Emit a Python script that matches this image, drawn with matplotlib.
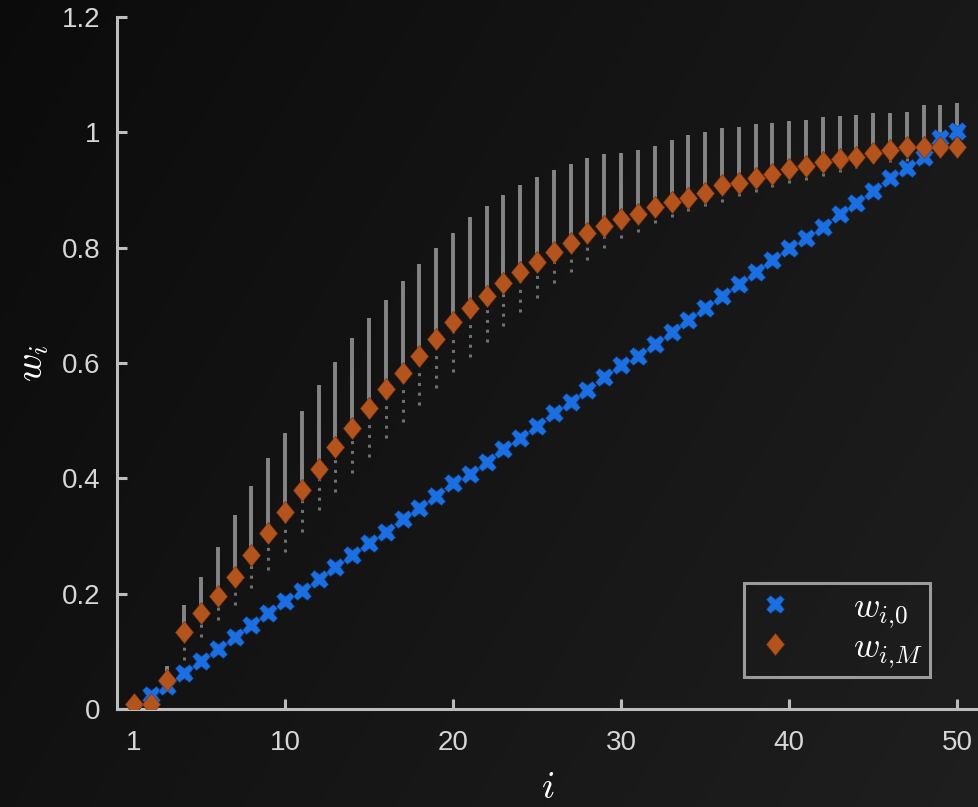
import numpy as np
import matplotlib.pyplot as plt

plt.rcParams['mathtext.fontset'] = 'cm'
plt.rcParams['font.family'] = ['Liberation Sans', 'DejaVu Sans']

# index i = 1..50
idx = list(range(1, 51))

# w_{i,0}: initial weights (blue crosses)
w_init = [0.0, 0.024, 0.040, 0.062, 0.083, 0.104, 0.125, 0.146, 0.166, 0.187,
          0.205, 0.225, 0.246, 0.267, 0.288, 0.307, 0.329, 0.348, 0.369, 0.392,
          0.407, 0.428, 0.450, 0.470, 0.490, 0.513, 0.532, 0.553, 0.575, 0.596,
          0.612, 0.633, 0.653, 0.674, 0.695, 0.716, 0.737, 0.757, 0.778, 0.799,
          0.816, 0.835, 0.858, 0.877, 0.898, 0.920, 0.939, 0.958, 0.990, 1.003]

# w_{i,M}: final weights (orange diamonds)
w_final = [0.008, 0.008, 0.050, 0.133, 0.166, 0.196, 0.229, 0.267, 0.305, 0.341,
           0.380, 0.417, 0.454, 0.487, 0.522, 0.555, 0.582, 0.612, 0.641, 0.671,
           0.695, 0.716, 0.738, 0.757, 0.775, 0.792, 0.808, 0.825, 0.837, 0.849,
           0.858, 0.870, 0.879, 0.886, 0.894, 0.908, 0.912, 0.920, 0.927, 0.936,
           0.941, 0.948, 0.953, 0.957, 0.964, 0.969, 0.974, 0.974, 0.974, 0.974]

# extent of the grey sample strands per index
strand_lo = [np.nan, np.nan, 0.035, 0.085, 0.125, 0.154, 0.180, 0.210, 0.241, 0.272,
             0.307, 0.345, 0.376, 0.409, 0.437, 0.470, 0.497, 0.527, 0.556, 0.584,
             0.610, 0.637, 0.664, 0.688, 0.712, 0.738, 0.757, 0.778, 0.799, 0.816,
             0.828, 0.842, 0.853, 0.863, 0.872, 0.880, 0.889, 0.896, 0.905, 0.912,
             0.918, 0.925, 0.931, 0.939, 0.946, 0.948, 0.951, 0.955, 0.960, 0.960]
strand_hi = [np.nan, np.nan, 0.075, 0.180, 0.229, 0.281, 0.336, 0.386, 0.435, 0.478,
             0.517, 0.561, 0.601, 0.643, 0.678, 0.710, 0.742, 0.771, 0.800, 0.826,
             0.853, 0.873, 0.891, 0.908, 0.922, 0.934, 0.945, 0.955, 0.962, 0.965,
             0.970, 0.977, 0.986, 0.995, 1.000, 1.007, 1.010, 1.015, 1.017, 1.019,
             1.022, 1.026, 1.028, 1.030, 1.033, 1.033, 1.036, 1.048, 1.048, 1.050]

xticks = [1, 10, 20, 30, 40, 50]
yticks = [0, 0.2, 0.4, 0.6, 0.8, 1, 1.2]
ytick_labels = ['0', '0.2', '0.4', '0.6', '0.8', '1', '1.2']

fg = '#bdbdbd'
txt = '#d6d6d6'

fig = plt.figure(figsize=(9.79, 8.07), dpi=100)
fig.patch.set_facecolor('#111111')

# subtle dark gradient behind everything (darker top-left, lighter bottom-right)
bg = fig.add_axes([0, 0, 1, 1], zorder=-10)
gx = np.linspace(0, 1, 200)
gy = np.linspace(0, 1, 200)
level = 0.045 + 0.05 * gx[None, :] + 0.025 * gy[:, None]
rgb = np.dstack([level, level, level])
bg.imshow(rgb, aspect='auto', extent=[0, 1, 0, 1], interpolation='bilinear')
bg.axis('off')

ax = fig.add_axes([117 / 979, 98 / 807, 862 / 979, 692 / 807])
ax.set_facecolor('none')

x = np.array(idx, dtype=float)
lo = np.array(strand_lo)
hi = np.array(strand_hi)
wf = np.array(w_final)

# grey sample strands: sparse below the final weight, dense above it
ax.vlines(x, lo, wf, colors='#707070', linewidth=2.2, linestyles=(0, (1, 2.2)), zorder=2)
ax.vlines(x, wf, hi, colors='#a2a2a2', linewidth=2.8, alpha=0.8, zorder=2)

ax.plot(x, w_init, linestyle='none', marker='X', markersize=13,
        color='#1a6fe3', markeredgecolor='#0d3f85', markeredgewidth=0.4,
        label=r'$w_{i{,}0}$', zorder=3)
diamond = [(0, 1), (0.82, 0), (0, -1), (-0.82, 0), (0, 1)]
ax.plot(x, w_final, linestyle='none', marker=diamond, markersize=16,
        color='#b4531c', markeredgecolor='#6e300d', markeredgewidth=0.4,
        label=r'$w_{i{,}M}$', zorder=4)

ax.set_xlim(0, 51.3)
ax.set_ylim(0, 1.2)
ax.set_xticks(xticks)
ax.set_yticks(yticks)
ax.set_yticklabels(ytick_labels)

for s in ['top', 'right']:
    ax.spines[s].set_visible(False)
for s in ['left', 'bottom']:
    ax.spines[s].set_color(fg)
    ax.spines[s].set_linewidth(2.2)

ax.tick_params(direction='in', length=7, width=2.2, color=fg, labelcolor=txt,
               labelsize=20)
ax.tick_params(axis='x', pad=15)
ax.tick_params(axis='y', pad=12)

ax.set_xlabel(r'$i$', fontsize=28, color='white', labelpad=10)
ax.set_ylabel(r'$w_i$', fontsize=28, color='white', labelpad=8)

leg = ax.legend(loc='lower right', bbox_to_anchor=(0.943, 0.046), borderaxespad=0,
                fontsize=26, frameon=True, fancybox=False, handletextpad=1.5,
                borderpad=0.2, labelspacing=0.0, handlelength=1.3)
leg.get_frame().set_facecolor('none')
leg.get_frame().set_edgecolor(fg)
leg.get_frame().set_linewidth(2.2)
for t in leg.get_texts():
    t.set_color('white')

fig.savefig('out.png', dpi=100, facecolor=fig.get_facecolor())
